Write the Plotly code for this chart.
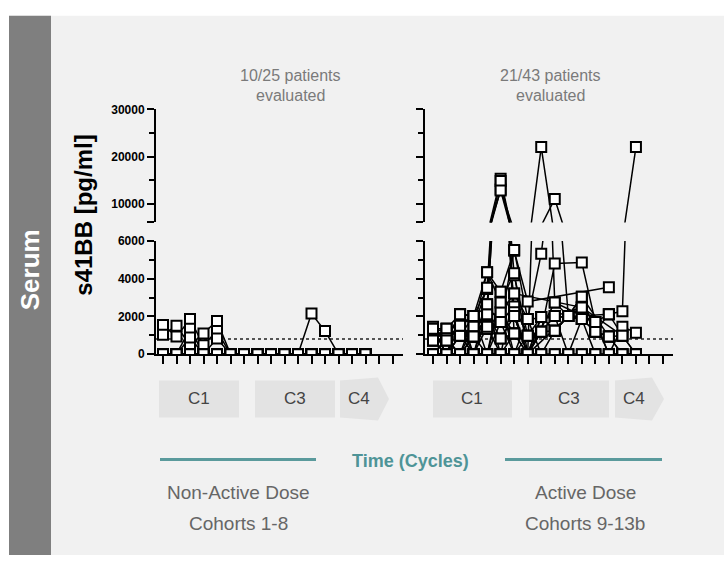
import plotly.graph_objects as go

W, H = 724, 562

# ---------------- data ----------------
timepoints = list(range(1, 19))
LLOQ = 800
lower_range = [0, 6000]
upper_range = [6000, 30000]
lower_ticks = [0, 2000, 4000, 6000]
lower_minor = [1000, 3000, 5000]
upper_ticks = [6000, 10000, 20000, 30000]
upper_ticktext = ["", "10000", "20000", "30000"]
upper_minor = [15000, 25000]

Z16 = [0] * 16
NA2 = [None, None]
N = None

# Non-active dose cohorts 1-8 (10 patients)
left_series = [
    [1550, 930, 1860, 470, 1240] + [0] * 11 + NA2,
    [1030, 1500, 470, 1090, 1760] + [0] * 11 + NA2,
    [0, 0, 1340, 0, 830] + [0] * 11 + NA2,
    [0, 0, 880, 0, 0] + [0] * 11 + NA2,
    [0] * 11 + [2150, 1230, 0, 0, 0] + NA2,
    Z16 + NA2,
    Z16 + NA2,
    Z16 + NA2,
    Z16 + NA2,
    Z16 + NA2,
]

# Active dose cohorts 9-13b (21 patients)
right_series = [
    [1345, 830, 980, 2020, 3460, 15300, 2020, 0, 1970, 2020, 0, 1860, 1190, 930, 0, 0] + NA2,
    [720, 1345, 1500, 930, 2640, 13000, 4190, 980, 1190, 1240, 2020, 2480, 1700, 2120, 980, 0] + NA2,
    [1190, 720, 2120, 1450, 2020, 14800, 1090, 0, 22000, 2740, 2020, 3050, 1190, 930, 0, 0] + NA2,
    [0, 830, 1500, 2020, 1345, 2220, 3210, 1860, 5330, 11000, 2020, 1860, 0, 0, 0, 0] + NA2,
    [1345, 1345, 980, 930, 1345, 1700, 2530, 980, 1970, 1240, 2020, 1860, 1190, 2120, 2280, 22000] + NA2,
    [N, 830, 2120, 2020, 4340, 3310, 5480, 2790, N, N, N, N, N, 3550, N, N] + NA2,
    [1450, 720, 0, 1450, 3520, 12800, 2220, 0, 1190, 4810, N, 4860, 1700, 0, 1450, 1140] + NA2,
    [720, 0, 980, 1450, 4340, 2740, 4290, 0, 1190, 2020, N, 2480, 1190, 930, 980, 0] + NA2,
    Z16 + NA2,
    [1190, 1345, 2120, 2020, 2530, 1700, 5530, 1860, 0, 1240, 2020, 3050, N, 930, N, N] + NA2,
    [720, 830, 1500, 930, 2020, 2220, 1090, 0, 1970, 1240, 2020, 2480, N, N, N, N] + NA2,
    [0, 0, 0, 930, 1345, 830, 1090, 980, 1190, 2020, N, 1860, N, N, N, N] + NA2,
    [1345, 0, 980, 0, 2120, 830, 2020, 0, 1190, N, N, N, N, N, N, N] + NA2,
    [0, 830, 0, 2020, 0, 2740, 0, 980, N, N, N, N, N, N, N, N] + NA2,
    [720, 0, 980, 0, 1450, 0, 1090, N, N, N, N, N, N, N, N, N] + NA2,
    [0, 0, 1500, 0, 0, 1700, 0, 0, N, 2740, N, N, 1700, 0, N, N] + NA2,
    [1345, 0, 0, 930, 0, 0, 3210, N, N, N, N, 2480, N, N, 980, N] + NA2,
    [0, 720, 0, 0, 2640, 0, 0, 1860, N, N, N, N, N, 2120, N, N] + NA2,
    [0, 0, 0, 0, 0, 3310, 2020, 0, N, N, N, N, N, N, N, N] + NA2,
    [0, 0, 2120, 0, 0, 0, 0, 0, N, N, 2020, N, N, N, N, N] + NA2,
    Z16 + NA2,
]

headers = ["10/25 patients", "evaluated", "21/43 patients", "evaluated"]
cycle_labels = ["C1", "C3", "C4"]
group_labels = ["Non-Active Dose", "Cohorts 1-8", "Active Dose", "Cohorts 9-13b"]
y_title = "s41BB [pg/ml]"
x_title = "Time (Cycles)"
side_label = "Serum"

# ---------------- helpers ----------------
def px(x):
    return x / W


def py(y):
    return 1 - y / H


SANS = "Liberation Sans, Arial, sans-serif"

fig = go.Figure()

panels = [
    # (series, x lower, y lower, x upper, y upper)
    (left_series, "x", "y", "x3", "y2"),
    (right_series, "x2", "y3", "x4", "y4"),
]

line_style = dict(color="black", width=1.5)
marker_style = dict(symbol="square", size=10, color="white", line=dict(color="black", width=2))


def in_range(vals, rng):
    return [v if (v is not None and rng[0] <= v <= rng[1]) else None for v in vals]


for series, xl, yl, xu, yu in panels:
    for s in series:
        for xa, ya in ((xl, yl), (xu, yu)):
            fig.add_trace(go.Scatter(x=timepoints, y=s, mode="lines", line=line_style,
                                     connectgaps=True, xaxis=xa, yaxis=ya,
                                     hoverinfo="skip", showlegend=False))
for series, xl, yl, xu, yu in panels:
    for s in series:
        for xa, ya, rng in ((xl, yl, lower_range), (xu, yu, upper_range)):
            fig.add_trace(go.Scatter(x=timepoints, y=in_range(s, rng), mode="markers",
                                     marker=marker_style, cliponaxis=True, xaxis=xa, yaxis=ya,
                                     hoverinfo="skip", showlegend=False))

left_dom = [px(156), px(403)]
right_dom = [px(425), px(673)]
left_rng = [0.4815, 18.778]
right_rng = [0.409, 18.74]
lower_dom = [py(356), py(240)]
upper_dom = [py(221), py(105)]


def xaxis(dom, rng, anchor, visible=True):
    return dict(domain=dom, range=rng, anchor=anchor, visible=visible,
                showline=True, linecolor="black", linewidth=2,
                ticks="outside", ticklen=8, tickwidth=2, tickcolor="black",
                tickvals=timepoints, showticklabels=False,
                showgrid=False, zeroline=False, fixedrange=True)


def yaxis(dom, rng, anchor, tickvals, ticktext, minor, labels):
    return dict(domain=dom, range=rng, anchor=anchor,
                showline=True, linecolor="black", linewidth=2,
                ticks="outside", ticklen=7, tickwidth=2, tickcolor="black",
                tickvals=tickvals, ticktext=ticktext, showticklabels=labels,
                tickfont=dict(family=SANS, size=12, color="black", weight="bold"),
                minor=dict(tickvals=minor, ticks="outside", ticklen=5, tickwidth=2, tickcolor="black"),
                showgrid=False, zeroline=False, fixedrange=True)


lower_text = [str(v) for v in lower_ticks]

fig.update_layout(
    width=W, height=H,
    margin=dict(l=0, r=0, t=0, b=0),
    paper_bgcolor="white", plot_bgcolor="rgba(0,0,0,0)",
    showlegend=False,
    xaxis=xaxis(left_dom, left_rng, "y"),
    xaxis3=xaxis(left_dom, left_rng, "y2", visible=False),
    xaxis2=xaxis(right_dom, right_rng, "y3"),
    xaxis4=xaxis(right_dom, right_rng, "y4", visible=False),
    yaxis=yaxis(lower_dom, lower_range, "x", lower_ticks, lower_text, lower_minor, True),
    yaxis2=yaxis(upper_dom, upper_range, "x3", upper_ticks, upper_ticktext, upper_minor, True),
    yaxis3=yaxis(lower_dom, lower_range, "x2", lower_ticks, lower_text, lower_minor, False),
    yaxis4=yaxis(upper_dom, upper_range, "x4", upper_ticks, upper_ticktext, upper_minor, False),
)

shapes = []
# light panel and dark side band
shapes.append(dict(type="rect", xref="paper", yref="paper", x0=px(9), x1=1, y0=0, y1=py(9),
                   fillcolor="#f1f1f1", line=dict(width=0), layer="below"))
shapes.append(dict(type="rect", xref="paper", yref="paper", x0=px(9), x1=px(51), y0=0, y1=py(9),
                   fillcolor="#7f7f7f", line=dict(width=0), layer="below"))
# LLOQ dotted lines
for xa, ya in (("x", "y"), ("x2", "y3")):
    shapes.append(dict(type="line", xref=f"{xa} domain", yref=ya, x0=0, x1=1, y0=LLOQ, y1=LLOQ,
                       line=dict(color="#222", width=1.5, dash="dot"), layer="below"))

# cycle boxes
box_sets = [
    [(159, 239), (255, 335), (340, 378, 389)],
    [(433, 512), (529, 609), (615, 652, 664)],
]
box_y0, box_y1 = 383, 421
for boxes in box_sets:
    for b in boxes:
        if len(b) == 2:
            shapes.append(dict(type="rect", xref="paper", yref="paper",
                               x0=px(b[0]), x1=px(b[1]), y0=py(box_y1), y1=py(box_y0),
                               fillcolor="#e3e3e3", line=dict(width=0), layer="below"))
        else:
            ym = (box_y0 + box_y1) / 2
            path = (f"M {px(b[0])},{py(box_y0)} L {px(b[1])},{py(box_y0 - 3)} L {px(b[2])},{py(ym)} "
                    f"L {px(b[1])},{py(box_y1 + 3)} L {px(b[0])},{py(box_y1)} Z")
            shapes.append(dict(type="path", xref="paper", yref="paper", path=path,
                               fillcolor="#e3e3e3", line=dict(width=0), layer="below"))

# teal lines
for x0, x1 in ((160, 316), (505, 662)):
    shapes.append(dict(type="line", xref="paper", yref="paper", x0=px(x0), x1=px(x1),
                       y0=py(464), y1=py(464), line=dict(color="#5a9a9c", width=3)))
fig.update_layout(shapes=shapes)

ann = []


def add_text(x, y, text, size, color, family=SANS, weight="normal", angle=0):
    ann.append(dict(x=px(x), y=py(y), xref="paper", yref="paper", text=text, showarrow=False,
                    xanchor="center", yanchor="middle", textangle=angle,
                    font=dict(family=family, size=size, color=color, weight=weight)))


add_text(290, 70, headers[0], 16, "#7a7a7a")
add_text(290, 91, headers[1], 16, "#7a7a7a")
add_text(550, 70, headers[2], 16, "#7a7a7a")
add_text(550, 91, headers[3], 16, "#7a7a7a")
label_x = [[199, 295, 359], [472, 569, 634]]
for row in label_x:
    for lx, lab in zip(row, cycle_labels):
        add_text(lx, 402, lab, 17, "#444444")
add_text(410, 466, x_title, 18, "#4e9497", weight="bold")
add_text(238, 498, group_labels[0], 19, "#666666")
add_text(238, 530, group_labels[1], 19, "#666666")
add_text(585, 498, group_labels[2], 19, "#666666")
add_text(585, 530, group_labels[3], 19, "#666666")
add_text(84, 214, y_title, 24, "black", weight="bold", angle=-90)
add_text(30, 270, side_label, 26, "white", weight="bold", angle=-90)
fig.update_layout(annotations=ann)

fig.write_html("out.html")
